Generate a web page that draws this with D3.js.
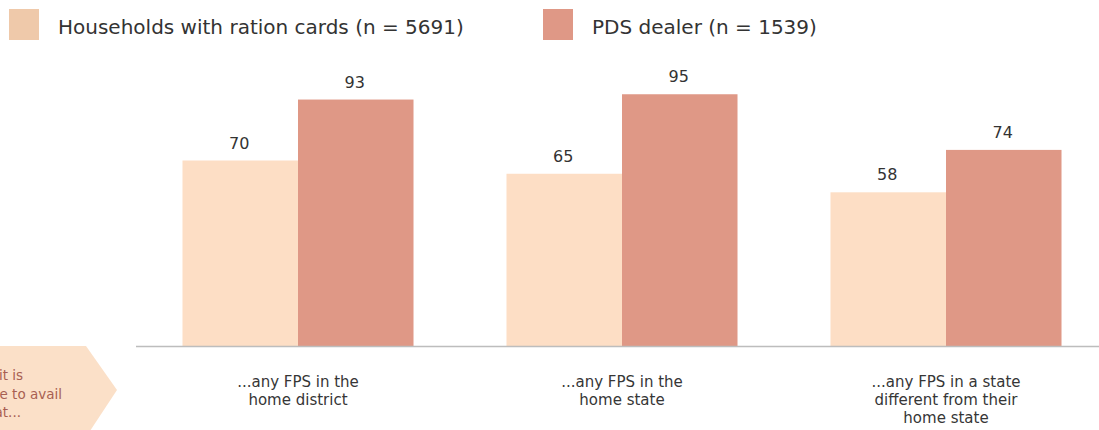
<!DOCTYPE html>
<meta charset="utf-8">
<head>
    <script src="https://d3js.org/d3.v7.min.js"></script>
    <style>
        body { margin: 0; font-family: "DejaVu Sans", "Noto Sans", sans-serif; background: #fff; }
        svg { display: block; }
    </style>
</head>
<body>
<svg></svg>
<script>
    // Data
    var categories = [
        ["...any FPS in the", "home district"],
        ["...any FPS in the", "home state"],
        ["...any FPS in a state", "different from their", "home state"]
    ];
    var seriesNames = ["Households with ration cards (n = 5691)", "PDS dealer (n = 1539)"];
    var households = [70, 65, 58];
    var dealers = [93, 95, 74];
    var sideLabel = ["Percentage who report that it is", "possible to avail", "their ration at..."];

    var width = 1099, height = 430;
    var barColors = ["#fddec5", "#df9886"];
    var swatchColors = ["#efc9aa", "#df9886"];

    var svg = d3.select("svg").attr("width", width).attr("height", height);

    var x0 = d3.scaleBand()
        .domain(d3.range(categories.length))
        .range([136, 1108])
        .paddingInner(0.287)
        .paddingOuter(0.1435);

    var x1 = d3.scaleBand()
        .domain([0, 1])
        .range([0, x0.bandwidth()]);

    var y = d3.scaleLinear().domain([0, 100]).range([346, 81]);

    var rows = categories.map(function (c, i) { return [households[i], dealers[i]]; });

    // left arrow box (runs off the left edge, as in the original slide)
    svg.append("path")
        .attr("d", "M-5,346 L86,346 L117,390 L88,434 L-5,434 Z")
        .attr("fill", "#fbe0c8");

    svg.append("text")
        .attr("fill", "#a85f52")
        .attr("font-size", 13.5)
        .attr("text-anchor", "end")
        .selectAll("tspan")
        .data(sideLabel)
        .join("tspan")
        .attr("x", function (d, i) { return [23, 62, 21][i]; })
        .attr("y", function (d, i) { return 380 + i * 18.5; })
        .text(function (d) { return d; });

    var groups = svg.selectAll(".grp")
        .data(rows)
        .join("g")
        .attr("class", "grp")
        .attr("transform", function (d, i) { return "translate(" + x0(i) + ",0)"; });

    groups.selectAll("rect")
        .data(function (d) { return d; })
        .join("rect")
        .attr("x", function (d, j) { return x1(j); })
        .attr("width", x1.bandwidth())
        .attr("y", function (d) { return y(d); })
        .attr("height", function (d) { return y(0) - y(d); })
        .attr("fill", function (d, j) { return barColors[j]; });

    groups.selectAll(".val")
        .data(function (d) { return d; })
        .join("text")
        .attr("class", "val")
        .attr("x", function (d, j) { return x1(j) + x1.bandwidth() / 2 - 1; })
        .attr("y", function (d) { return y(d) - 12; })
        .attr("text-anchor", "middle")
        .attr("font-size", 16)
        .attr("fill", "#333")
        .text(function (d) { return d; });

    // axis
    svg.append("line")
        .attr("x1", 136).attr("x2", width)
        .attr("y1", y(0) + 0.5).attr("y2", y(0) + 0.5)
        .attr("stroke", "#bdbdbd")
        .attr("stroke-width", 1.5);

    // category labels
    svg.selectAll(".cat")
        .data(categories)
        .join("text")
        .attr("class", "cat")
        .attr("text-anchor", "middle")
        .attr("font-size", 15)
        .attr("fill", "#363636")
        .each(function (lines, i) {
            d3.select(this).selectAll("tspan")
                .data(lines)
                .join("tspan")
                .attr("x", x0(i) + x0.bandwidth() / 2)
                .attr("y", function (d, k) { return 387 + k * 18; })
                .text(function (d) { return d; });
        });

    // legend
    var legendX = [9, 543];
    var legend = svg.selectAll(".leg")
        .data(seriesNames)
        .join("g")
        .attr("class", "leg")
        .attr("transform", function (d, i) { return "translate(" + legendX[i] + ",9)"; });

    legend.append("rect")
        .attr("width", 30).attr("height", 31)
        .attr("fill", function (d, i) { return swatchColors[i]; });

    legend.append("text")
        .attr("x", 49)
        .attr("y", 25)
        .attr("font-size", 20)
        .attr("fill", "#333")
        .text(function (d) { return d; });
</script>
</body>
</html>
